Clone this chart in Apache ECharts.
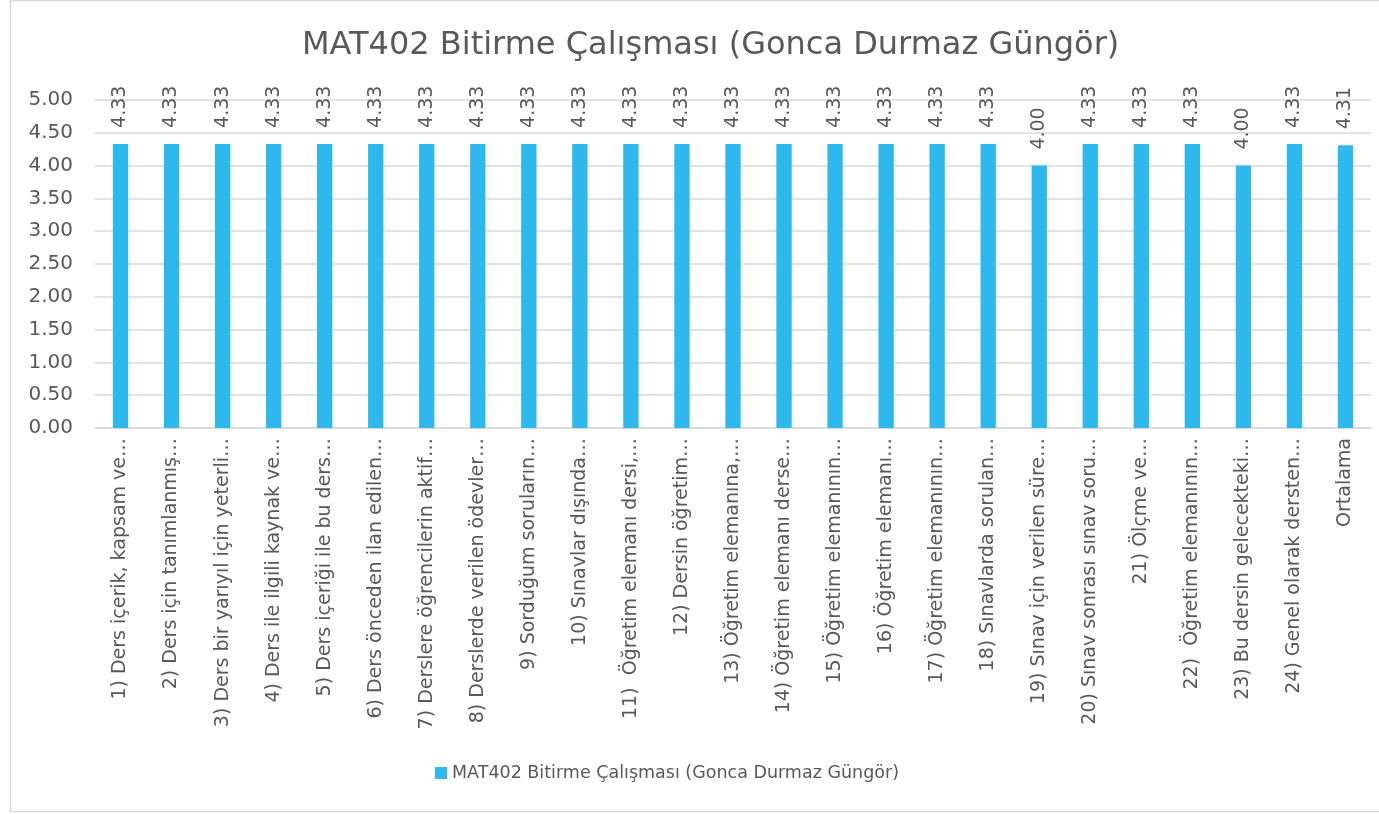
<!DOCTYPE html>
<html>
<head>
<meta charset="utf-8">
<script src="https://cdn.jsdelivr.net/npm/echarts@6/dist/echarts.min.js"></script>
<style>
  html, body { margin: 0; padding: 0; background: #fff; }
  #chart { width: 1379px; height: 814px; }
</style>
</head>
<body>
<div id="chart"></div>
<script>
const chartTitle = 'MAT402 Bitirme Çalışması (Gonca Durmaz Güngör)';
const seriesName = 'MAT402 Bitirme Çalışması (Gonca Durmaz Güngör)';

const categories = [
  '1) Ders içerik, kapsam ve…',
  '2) Ders için tanımlanmış…',
  '3) Ders bir yarıyıl için yeterli…',
  '4) Ders ile ilgili kaynak ve…',
  '5) Ders içeriği ile bu ders…',
  '6) Ders önceden ilan edilen…',
  '7) Derslere öğrencilerin aktif…',
  '8) Derslerde verilen ödevler…',
  '9) Sorduğum soruların…',
  '10) Sınavlar dışında…',
  '11)  Öğretim elemanı dersi,…',
  '12) Dersin öğretim…',
  '13) Öğretim elemanına,…',
  '14) Öğretim elemanı derse…',
  '15) Öğretim elemanının…',
  '16) Öğretim elemanı…',
  '17) Öğretim elemanının…',
  '18) Sınavlarda sorulan…',
  '19) Sınav için verilen süre…',
  '20) Sınav sonrası sınav soru…',
  '21) Ölçme ve…',
  '22)  Öğretim elemanının…',
  '23) Bu dersin gelecekteki…',
  '24) Genel olarak dersten…',
  'Ortalama'
];

const values = [
  4.33, 4.33, 4.33, 4.33, 4.33, 4.33, 4.33, 4.33, 4.33, 4.33,
  4.33, 4.33, 4.33, 4.33, 4.33, 4.33, 4.33, 4.33, 4.00, 4.33,
  4.33, 4.33, 4.00, 4.33, 4.31
];

const yTicks = [0, 0.5, 1, 1.5, 2, 2.5, 3, 3.5, 4, 4.5, 5];

const textColor = '#595959';
const barColor = '#2EB9EE';
const font = '"DejaVu Sans", sans-serif';

const chart = echarts.init(document.getElementById('chart'));
chart.setOption({
  animation: false,
  backgroundColor: '#fff',
  textStyle: { fontFamily: font },
  title: {
    text: chartTitle,
    left: 297,
    top: 25,
    textStyle: { fontFamily: font, fontSize: 32, fontWeight: 'normal', color: textColor }
  },
  graphic: [{
    type: 'rect',
    shape: { x: 10.5, y: 0.5, width: 1380, height: 811 },
    style: { fill: 'none', stroke: '#D9D9D9', lineWidth: 1.5 },
    silent: true
  }],
  legend: {
    bottom: 27,
    left: 430,
    itemWidth: 12,
    itemHeight: 12,
    itemGap: 5,
    icon: 'rect',
    textStyle: { fontFamily: font, fontSize: 17.5, color: textColor },
    data: [seriesName]
  },
  grid: { left: 95, right: 8, top: 100, bottom: 386 },
  xAxis: {
    type: 'category',
    data: categories,
    axisLine: { lineStyle: { color: '#D9D9D9', width: 1.5 } },
    axisTick: { show: false },
    axisLabel: {
      interval: 0,
      rotate: 90,
      margin: 10,
      fontSize: 19,
      color: textColor,
      fontFamily: font
    }
  },
  yAxis: {
    type: 'value',
    min: yTicks[0],
    max: yTicks[yTicks.length - 1],
    interval: 0.5,
    axisLine: { show: false },
    axisTick: { show: false },
    splitLine: { lineStyle: { color: '#D9D9D9', width: 1.5 } },
    axisLabel: {
      fontSize: 20,
      color: textColor,
      margin: 22,
      fontFamily: font,
      formatter: v => v.toFixed(2)
    }
  },
  series: [{
    name: seriesName,
    type: 'bar',
    data: values,
    barWidth: '30%',
    itemStyle: { color: barColor },
    label: {
      show: true,
      position: 'top',
      rotate: 90,
      align: 'left',
      verticalAlign: 'middle',
      distance: 16,
      fontSize: 19,
      color: textColor,
      fontFamily: font,
      formatter: p => p.value.toFixed(2)
    }
  }]
});
</script>
</body>
</html>
